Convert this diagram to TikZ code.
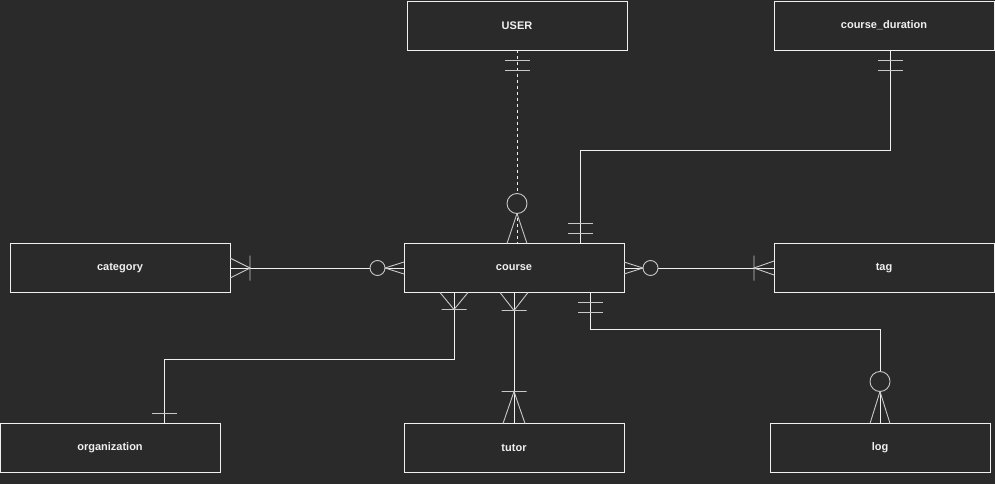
\documentclass[tikz,border=0pt]{standalone}
\usepackage{fontspec}
\setmainfont{Liberation Sans}
\usepackage{xcolor}
\usepackage{tikz}
\usetikzlibrary{calc}

\definecolor{bgcol}{HTML}{2A2A2A}
\definecolor{inkcol}{HTML}{F0F0F0}

\tikzset{
  cardline/.style={draw=inkcol!80!bgcol, line width=0.9pt},
  pics/mone/.style={code={\draw[cardline] (10,-12.5) -- (10,12.5) (20,-12.5) -- (20,12.5);}},
  pics/bar/.style={code={\draw[cardline] (10,-12.5) -- (10,12.5);}},
  pics/onemany/.style n args={2}{code={\draw[cardline] (0,-#2) -- (#1,0) -- (0,#2) (#1,-12.5) -- (#1,12.5);}},
  pics/zmany/.style n args={3}{code={\draw[cardline] (0,-#2) -- (#1,0) -- (0,#2);
    \draw[cardline, fill=bgcol] (#1+#3,0) circle (#3);}}
}

\begin{document}
\begin{tikzpicture}[x=1pt, y=-1pt,
entity/.style={draw=inkcol, line width=0.9pt, fill=bgcol, text=inkcol, minimum width=220pt, minimum height=49pt, inner sep=0pt, outer sep=0pt, font=\fontsize{11}{13}\selectfont\bfseries},
rel/.style={draw=inkcol, line width=0.9pt}
]
\useasboundingbox[fill=bgcol] (0,0) rectangle (995,484);

% entities
\node[entity] (user) at (517,25.5) {USER};
\node[entity] (cdur) at (884,25.5) {course\_duration};
\node[entity] (category) at (120,268) {category};
\node[entity] (course) at (514,268) {course};
\node[entity] (tag) at (884,268) {tag};
\node[entity] (org) at (110,448) {organization};
\node[entity] (tutor) at (514,448) {tutor};
\node[entity] (log) at (880,448) {log};

% relations
\draw[rel, dash pattern=on 3pt off 3pt] (user.south) -- (user.south |- course.north);
\draw[rel] ([xshift=6pt]cdur.south) -- ++(0,100) -| ([xshift=66pt]course.north);
\draw[rel] (category.east) -- (course.west);
\draw[rel] (course.east) -- (tag.west);
\draw[rel] ([xshift=-60pt]course.south) -- ++(0,67) -| ([xshift=54pt]org.north);
\draw[rel] (course.south) -- (tutor.north);
\draw[rel] ([xshift=76pt]course.south) -- ++(0,37) -| (log.north);

% cardinalities
\pic[rotate=-90] at (user.south) {mone};
\pic[rotate=90] at (user.south |- course.north) {zmany={30}{10}{10}};
\pic[rotate=-90] at ([xshift=6pt]cdur.south) {mone};
\pic[rotate=90] at ([xshift=66pt]course.north) {mone};
\pic at (category.east) {onemany={20}{10}};
\pic[rotate=180] at (course.west) {zmany={19}{6}{7.5}};
\pic at (course.east) {zmany={19}{6}{7.5}};
\pic[rotate=180] at (tag.west) {onemany={20}{7}};
\pic[rotate=-90] at ([xshift=-60pt]course.south) {onemany={17}{14}};
\pic[rotate=90] at ([xshift=54pt]org.north) {bar};
\pic[rotate=-90] at (course.south) {onemany={18}{14}};
\pic[rotate=90] at (tutor.north) {onemany={32}{11}};
\pic[rotate=-90] at ([xshift=76pt]course.south) {mone};
\pic[rotate=90] at (log.north) {zmany={32}{10}{10}};
\end{tikzpicture}
\end{document}
